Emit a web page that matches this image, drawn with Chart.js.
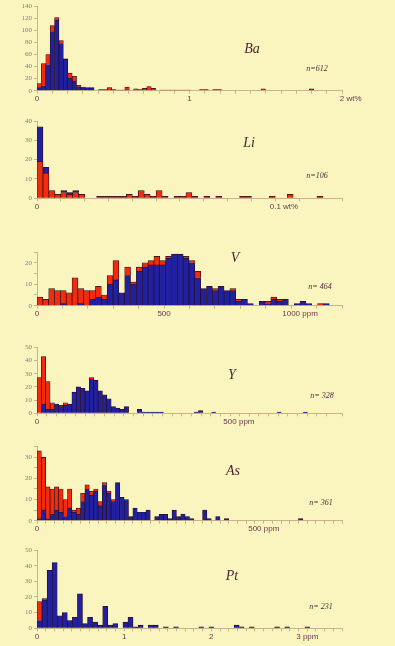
<!DOCTYPE html>
<html>
<head>
<meta charset="utf-8">
<script src="https://cdn.jsdelivr.net/npm/chart.js@4"></script>
<style>
  html, body { margin: 0; padding: 0; background: #faf5be; }
  #wrap { position: relative; width: 395px; height: 646px; overflow: hidden; background: #faf5be; }
  #wrap canvas { position: absolute; left: 0; }
</style>
</head>
<body>
<div id="wrap"></div>
<script>
// counts per bin (index 0 = first bin from zero)
const baBlue = [5,8,43,98,117,78,52,21,16,7, 5,5,5,0,0,0,0,0,1,1, 1,0,0,0,0,0,0,0,0,0,
  0,0,0,0,0,0,0,0,0,0, 0,0,0,0,0,0,0,0,0,0, 0,0,0,0,0,0,0,0,0,0, 0,0,1];
const baRed = [7,37,17,10,4,5,1,8,8,2, 1,0,0,0,2,2,5,2,0,0, 5,0,3,2,4,7,4,0,1,1,
  1,1,1,1,1,0,0,2,2,0, 2,2,0,0,0,0,0,0,0,0, 0,3,0,0,0,0,0,0,0,0, 0,0,2];

const liRed = [19,13,4,2,3,2,3,2,0,0, 1,1,1,1,1,2,1,4,2,1, 4,1,0,1,1,3,1,0,1,0,
  1,0,0,0,1,1,0,0,0,1, 0,0,2,0,0,0,0,1];
const liBlue = [18,3,0,0,1,1,1,0];

const vBlue = [0,0,0,0,1,0,0,1,0,3, 4,3,10,12,6,14,10,16,18,19, 19,19,22,24,24,22,20,13,8,9,
  7,9,7,7,2,3,1,0,2,1, 3,2,3,0,1,2,1,0,0,1];
const vRed = [4,3,8,7,6,6,13,7,7,4, 5,2,4,9,0,4,1,2,2,2, 4,2,1,0,0,1,1,3,0,0,
  1,0,0,1,1,0,0,0,0,1, 1,1,0,0,0,0,0,0,1,0];

const yBlue = [0,7,3,3,7,5,6,7,16,20, 19,17,26,25,17,14,11,5,4,3, 5,0,0,3,1,1,1,1,1,0,
  0,0,0,0,0,0,1,2,0,0, 1,0,0,0,0,0,0,0,0,0, 0,0,0,0,0,1,0,0,0,0, 0,1];
const yRed = [27,36,21,5,0,1,2,0,0,0, 0,0,1];

const asBlue = [1,5,1,3,5,4,2,6,4,3, 9,15,12,14,7,17,13,9,18,11, 10,2,6,4,4,5,0,2,3,3,
  1,5,2,3,2,1,0,0,5,1, 0,2,0,1,0,0,0,0,0,0, 0,0,0,0,0,0,0,0,0,0, 1];
const asRed = [32,25,15,12,11,11,8,9,1,3, 4,2,2,1,2,1,1,1];

const ptBlue = [5,18,37,42,8,10,5,7,22,3, 7,4,2,14,2,3,0,4,7,1, 2,0,2,2,0,1,0,1,0,0,
  0,0,1,0,1,0,0,0,0,2, 1,0,1,0,0,0,0,1,0,1, 0,0,0,1];
const ptRed = [12,1];

const elements = ['Ba', 'Li', 'V', 'Y', 'As', 'Pt'];
const sampleLabels = ['n=612', 'n=106', 'n= 464', 'n= 328', 'n= 361', 'n= 231'];
const blueSeries = [baBlue, liBlue, vBlue, yBlue, asBlue, ptBlue];
const redSeries = [baRed, liRed, vRed, yRed, asRed, ptRed];
const binWidths = [0.0288, 0.0025, 23, 11.3, 10, 0.058];
const xMaxes = [2, 0.128, 1200, 790, 700, 3.5];
const xSteps = [0.1, 0.01, 100, 25, 20, 0.1];
const xLabelTicks = [[0, 1, 2], [0, 0.1], [0, 500, 1000], [0, 500], [0, 500], [0, 1, 2, 3]];
const units = ['wt%', 'wt%', 'ppm', 'ppm', 'ppm', 'ppm'];
const yMaxes = [140, 40, 25, 50, 35, 50];
const yTickSteps = [20, 10, 5, 10, 5, 10];
const yLabelSteps = [20, 10, 10, 10, 10, 10];
const redOnTop = [true, false, true, true, true, true];

// page geometry of each panel (px)
const layout = [
  { top: 0,   maxPx: 5.3,   zeroPx: 90.7,  name: [252, 49],  n: [317, 69] },
  { top: 113, maxPx: 121,   zeroPx: 198.3, name: [249, 143], n: [317, 176] },
  { top: 240, maxPx: 252,   zeroPx: 305.7, name: [235, 258], n: [320, 287] },
  { top: 337, maxPx: 347.3, zeroPx: 413.3, name: [232, 375], n: [322, 396] },
  { top: 436, maxPx: 446.7, zeroPx: 520.7, name: [233, 471], n: [321, 503] },
  { top: 540, maxPx: 550,   zeroPx: 628.3, name: [232, 576], n: [321, 607] }
];

const RED = '#f42a0c';
const BLUE = '#2020a0';
const EDGE = '#2a0c1c';
const AXIS = '#c9b28c';
const INK = '#4b1f35';

const panelText = {
  id: 'panelText',
  afterDraw(chart, args, o) {
    const { ctx, chartArea } = chart;
    const x = chart.scales.x;
    ctx.save();
    ctx.fillStyle = '#6a3550';
    ctx.font = '8px "Liberation Sans"';
    ctx.textBaseline = 'middle';
    ctx.textAlign = 'left';
    o.ticks.forEach((v, j) => {
      const num = String(v);
      const txt = j === o.ticks.length - 1 ? num + ' ' + o.unit : num;
      const w = ctx.measureText(num).width;
      ctx.fillText(txt, x.getPixelForValue(v) - w / 2, chartArea.bottom + 8.5);
    });
    ctx.fillStyle = INK;
    ctx.textAlign = 'center';
    ctx.font = 'italic 14px "Liberation Serif"';
    ctx.fillText(o.name, o.namePos[0], o.namePos[1] - o.top);
    ctx.font = 'italic 8px "Liberation Serif"';
    ctx.fillText(o.nText, o.nPos[0], o.nPos[1] - o.top);
    ctx.restore();
  }
};

const toPoints = (vals, w) =>
  vals.map((v, k) => ({ x: (k + 0.5) * w, y: v })).filter(p => p.y > 0);

const wrap = document.getElementById('wrap');

elements.forEach((name, i) => {
  const g = layout[i];
  const H = Math.ceil(g.zeroPx - g.top + 18);
  const axisH = H - (g.zeroPx - g.top);
  const canvas = document.createElement('canvas');
  canvas.width = 395;
  canvas.height = H;
  canvas.style.top = g.top + 'px';
  wrap.appendChild(canvas);

  const barStyle = {
    borderColor: EDGE,
    borderWidth: 0.7,
    barPercentage: 1,
    categoryPercentage: 1
  };
  const red = Object.assign({ label: 'red', data: toPoints(redSeries[i], binWidths[i]), backgroundColor: RED }, barStyle);
  const blue = Object.assign({ label: 'blue', data: toPoints(blueSeries[i], binWidths[i]), backgroundColor: BLUE }, barStyle);

  new Chart(canvas, {
    type: 'bar',
    data: { datasets: redOnTop[i] ? [blue, red] : [red, blue] },
    options: {
      responsive: false,
      animation: false,
      layout: { padding: { top: g.maxPx - g.top, right: 53, bottom: 0, left: 0 } },
      scales: {
        x: {
          type: 'linear',
          min: 0,
          max: xMaxes[i],
          offset: false,
          stacked: true,
          grid: { display: true, drawOnChartArea: false, tickLength: 3, tickColor: AXIS, offset: false },
          border: { color: AXIS, width: 1 },
          ticks: { display: false, stepSize: xSteps[i] },
          afterFit: s => { s.height = axisH; }
        },
        y: {
          min: 0,
          max: yMaxes[i],
          stacked: true,
          grid: { drawOnChartArea: false, tickLength: 3, tickColor: AXIS },
          border: { color: AXIS, width: 1 },
          ticks: {
            stepSize: yTickSteps[i],
            autoSkip: false,
            padding: 2,
            color: '#8c7684',
            font: { family: 'Liberation Serif', size: 7 },
            callback: v => (v % yLabelSteps[i] === 0 ? v : '')
          },
          afterFit: s => { s.width = 37; }
        }
      },
      plugins: {
        legend: { display: false },
        tooltip: { enabled: false },
        panelText: {
          ticks: xLabelTicks[i],
          unit: units[i],
          name: name,
          nText: sampleLabels[i],
          namePos: g.name,
          nPos: g.n,
          top: g.top
        }
      }
    },
    plugins: [panelText]
  });
});
</script>
</body>
</html>
